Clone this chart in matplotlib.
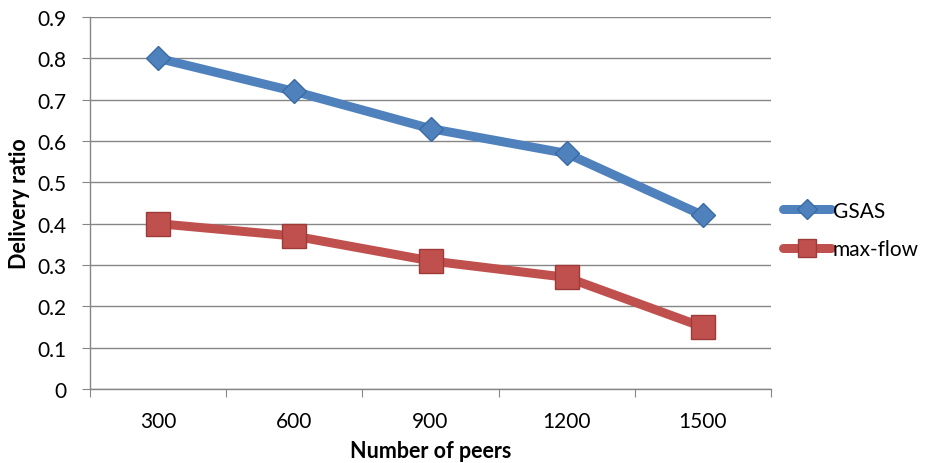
import matplotlib
matplotlib.use("Agg")
import matplotlib.pyplot as plt
from matplotlib.lines import Line2D

plt.rcParams['font.family'] = ['Lato', 'DejaVu Sans']

categories = ["300", "600", "900", "1200", "1500"]
gsas = [0.8, 0.72, 0.63, 0.57, 0.42]
maxflow = [0.4, 0.37, 0.31, 0.27, 0.15]
y_ticks = [0, 0.1, 0.2, 0.3, 0.4, 0.5, 0.6, 0.7, 0.8, 0.9]

blue = "#4F81BD"
red = "#C0504D"
grid = "#868686"

fig = plt.figure(figsize=(9.35, 4.64), dpi=100)
ax = fig.add_axes([90/935, 1 - 390/464, (771-90)/935, (390-18)/464])

x = list(range(len(categories)))
ax.plot(x, gsas, color=blue, lw=6.5, marker="D", ms=12, mfc=blue,
        mec="#3A6BA5", mew=1, solid_capstyle="round", zorder=3, label="GSAS")
ax.plot(x, maxflow, color=red, lw=6.5, marker="s", ms=17, mfc=red,
        mec="#9E3B38", mew=1, solid_capstyle="round", zorder=3, label="max-flow")

ax.set_ylim(0, 0.9)
ax.set_yticks(y_ticks)
ax.set_yticklabels(["0"] + [f"{v:.1f}" for v in y_ticks[1:]])
ax.set_xlim(-0.5, len(categories) - 0.5)
ax.set_xticks([i - 0.5 for i in range(len(categories) + 1)])
ax.set_xticklabels([])
ax.set_xticks(x, minor=True)
ax.set_xticklabels(categories, minor=True)
ax.tick_params(axis="x", which="major", length=6, color=grid, direction="out")
ax.tick_params(axis="x", which="minor", length=0, pad=16, labelsize=15)
ax.tick_params(axis="y", length=6, color=grid, direction="out", labelsize=15, pad=11)

ax.yaxis.grid(True, color=grid, lw=1)
ax.set_axisbelow(True)
for s in ["top", "right"]:
    ax.spines[s].set_visible(False)
for s in ["left", "bottom"]:
    ax.spines[s].set_color(grid)
    ax.spines[s].set_linewidth(1)

ax.set_ylabel("Delivery ratio", fontsize=15.5, fontweight="bold", labelpad=5)
ax.set_xlabel("Number of peers", fontsize=15.5, fontweight="bold", labelpad=6)

handles = [
    Line2D([], [], color=blue, lw=6.5, marker="D", ms=10, mfc=blue, mec="#3A6BA5", solid_capstyle="round"),
    Line2D([], [], color=red, lw=6.5, marker="s", ms=13, mfc=red, mec="#9E3B38", solid_capstyle="round"),
]
fig.legend(handles, ["GSAS", "max-flow"], loc="center left",
           bbox_to_anchor=(764/935, 1 - 231/464), frameon=False,
           fontsize=15, handlelength=2.3, handletextpad=0.1, labelspacing=0.9)

fig.savefig("out.png", dpi=100)
